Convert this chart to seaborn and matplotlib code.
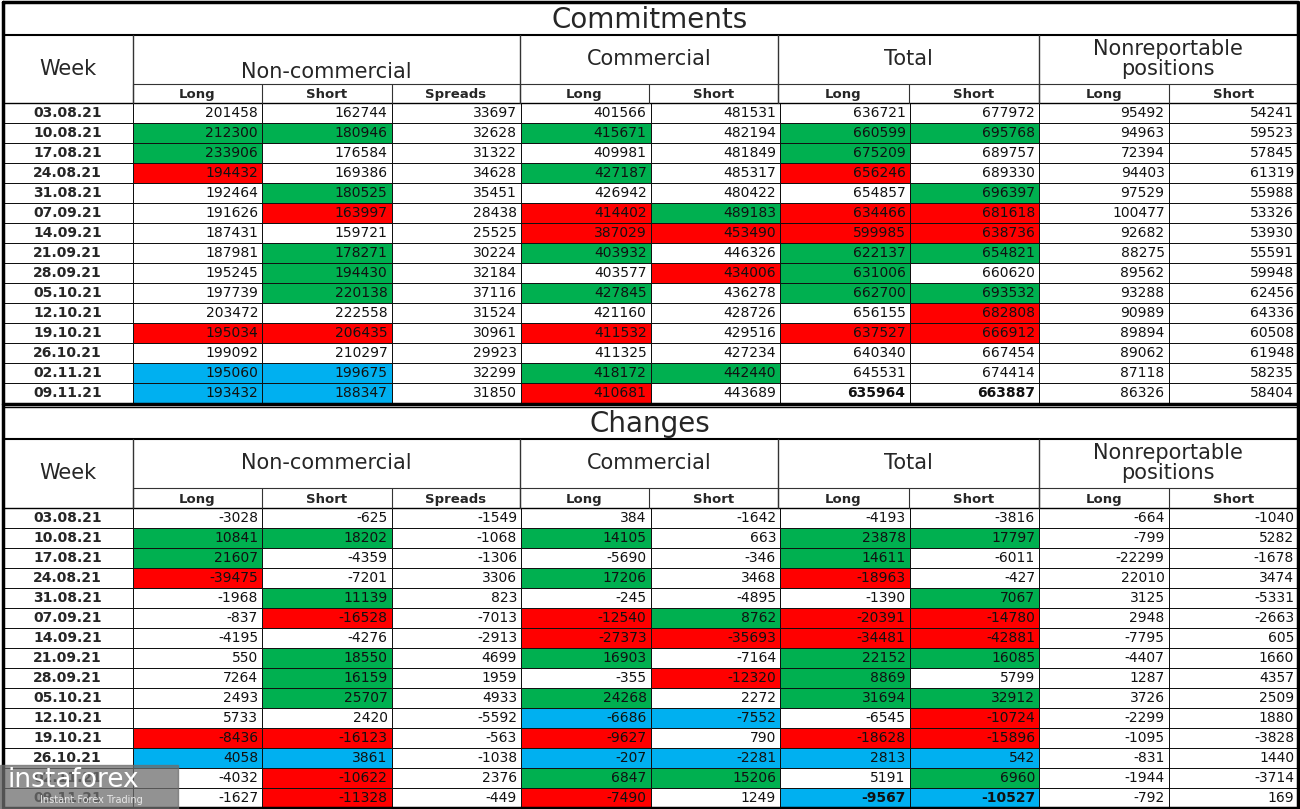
import numpy as np
import pandas as pd
import matplotlib
matplotlib.use('Agg')
import matplotlib.pyplot as plt
from matplotlib.colors import ListedColormap
import seaborn as sns

sns.set_theme(style='white')
plt.rcParams['font.family'] = ['DejaVu Sans']

#%% Dati

weeks = ['03.08.21', '10.08.21', '17.08.21', '24.08.21', '31.08.21', '07.09.21', '14.09.21',
         '21.09.21', '28.09.21', '05.10.21', '12.10.21', '19.10.21', '26.10.21', '02.11.21', '09.11.21']

groups = ['Non-commercial', 'Commercial', 'Total', 'Nonreportable\npositions']
sub_cols = ['Long', 'Short', 'Spreads', 'Long', 'Short', 'Long', 'Short', 'Long', 'Short']

# Commitments
nc_long = [201458, 212300, 233906, 194432, 192464, 191626, 187431, 187981, 195245, 197739, 203472, 195034, 199092, 195060, 193432]
nc_short = [162744, 180946, 176584, 169386, 180525, 163997, 159721, 178271, 194430, 220138, 222558, 206435, 210297, 199675, 188347]
spreads = [33697, 32628, 31322, 34628, 35451, 28438, 25525, 30224, 32184, 37116, 31524, 30961, 29923, 32299, 31850]
c_long = [401566, 415671, 409981, 427187, 426942, 414402, 387029, 403932, 403577, 427845, 421160, 411532, 411325, 418172, 410681]
c_short = [481531, 482194, 481849, 485317, 480422, 489183, 453490, 446326, 434006, 436278, 428726, 429516, 427234, 442440, 443689]
t_long = [636721, 660599, 675209, 656246, 654857, 634466, 599985, 622137, 631006, 662700, 656155, 637527, 640340, 645531, 635964]
t_short = [677972, 695768, 689757, 689330, 696397, 681618, 638736, 654821, 660620, 693532, 682808, 666912, 667454, 674414, 663887]
nr_long = [95492, 94963, 72394, 94403, 97529, 100477, 92682, 88275, 89562, 93288, 90989, 89894, 89062, 87118, 86326]
nr_short = [54241, 59523, 57845, 61319, 55988, 53326, 53930, 55591, 59948, 62456, 64336, 60508, 61948, 58235, 58404]

# Changes
d_nc_long = [-3028, 10841, 21607, -39475, -1968, -837, -4195, 550, 7264, 2493, 5733, -8436, 4058, -4032, -1627]
d_nc_short = [-625, 18202, -4359, -7201, 11139, -16528, -4276, 18550, 16159, 25707, 2420, -16123, 3861, -10622, -11328]
d_spreads = [-1549, -1068, -1306, 3306, 823, -7013, -2913, 4699, 1959, 4933, -5592, -563, -1038, 2376, -449]
d_c_long = [384, 14105, -5690, 17206, -245, -12540, -27373, 16903, -355, 24268, -6686, -9627, -207, 6847, -7490]
d_c_short = [-1642, 663, -346, 3468, -4895, 8762, -35693, -7164, -12320, 2272, -7552, 790, -2281, 15206, 1249]
d_t_long = [-4193, 23878, 14611, -18963, -1390, -20391, -34481, 22152, 8869, 31694, -6545, -18628, 2813, 5191, -9567]
d_t_short = [-3816, 17797, -6011, -427, 7067, -14780, -42881, 16085, 5799, 32912, -10724, -15896, 542, 6960, -10527]
d_nr_long = [-664, -799, -22299, 22010, 3125, 2948, -7795, -4407, 1287, 3726, -2299, -1095, -831, -1944, -792]
d_nr_short = [-1040, 5282, -1678, 3474, -5331, -2663, 605, 1660, 4357, 2509, 1880, -3828, 1440, -3714, 169]

# colori celle: . bianco, g verde, r rosso, b azzurro
top_colors = ['.........', 'gg.g.gg..', 'g....g...', 'r..g.r...', '.g....g..',
              '.r.rgrr..', '...rrrr..', '.g.g.gg..', '.g..rg...', '.g.g.gg..',
              '......r..', 'rr.r.rr..', '.........', 'bb.gg....', 'bb.r.....']
bot_colors = ['.........', 'gg.g.gg..', 'g....g...', 'r..g.r...', '.g....g..',
              '.r.rgrr..', '...rrrr..', '.g.g.gg..', '.g..rg...', '.g.g.gg..',
              '...bb.r..', 'rr.r.rr..', 'bb.bbbb..', '.r.gg.g..', '.r.r.bb..']

# celle in grassetto (riga, colonna dati)
top_bold = [(14, 5), (14, 6)]
bot_bold = [(14, 5), (14, 6)]

top_vals = [nc_long, nc_short, spreads, c_long, c_short, t_long, t_short, nr_long, nr_short]
bot_vals = [d_nc_long, d_nc_short, d_spreads, d_c_long, d_c_short, d_t_long, d_t_short, d_nr_long, d_nr_short]

code = {'.': 0, 'g': 1, 'r': 2, 'b': 3}
cmap = ListedColormap(['#FFFFFF', '#00B050', '#FF0000', '#00B0F0'])

W, H = 1300, 809
fig = plt.figure(figsize=(W / 100, H / 100), dpi=100)
fig.patch.set_facecolor('white')


def px_rect(x0, y0, x1, y1):
    return [x0 / W, 1 - y1 / H, (x1 - x0) / W, (y1 - y0) / H]


def draw_table(y0, y1, vals, colors, bold):
    ax = fig.add_axes(px_rect(3, y0, 1298, y1))
    mat = pd.DataFrame([[0] + [code[c] for c in row] for row in colors],
                       index=weeks, columns=['Week'] + sub_cols)
    sns.heatmap(mat, cmap=cmap, vmin=-0.5, vmax=3.5, cbar=False,
                linewidths=0.7, linecolor='#111111', ax=ax)
    ax.set_xticks([])
    ax.set_yticks([])
    ax.set_xlabel('')
    ax.set_ylabel('')
    for i, w in enumerate(weeks):
        ax.text(0.5, i + 0.52, w, ha='center', va='center', fontsize=10, fontweight='bold')
        for j, col in enumerate(vals):
            fw = 'bold' if (i, j) in bold else 'normal'
            ax.text(j + 2 - 0.03, i + 0.52, str(col[i]), ha='right', va='center',
                    fontsize=10, fontweight=fw, color='#111111')
    return ax


ax_top = draw_table(103, 403, top_vals, top_colors, top_bold)
ax_bot = draw_table(508, 808, bot_vals, bot_colors, bot_bold)

#%% Intestazioni

ov = fig.add_axes([0, 0, 1, 1], facecolor='none')
ov.set_xlim(0, W)
ov.set_ylim(H, 0)
ov.axis('off')

edges = [3, 133, 262, 392, 520, 649, 778, 909, 1039, 1169, 1298]
group_edges = [3, 133, 520, 778, 1039, 1298]


def draw_header(title, title_y, hdr_top, sub_top, data_top, text_y):
    ov.text(650, title_y, title, ha='center', va='center', fontsize=20)
    ov.plot([3, 1298], [hdr_top, hdr_top], color='black', lw=1.5)
    ov.plot([133, 1298], [sub_top, sub_top], color='#333333', lw=0.8)
    ov.plot([3, 1298], [data_top, data_top], color='black', lw=1)
    for x in group_edges:
        ov.plot([x, x], [hdr_top, data_top], color='#333333', lw=1)
    for x in edges:
        ov.plot([x, x], [sub_top, data_top], color='#333333', lw=0.8)
    ov.text(68, text_y['week'], 'Week', ha='center', va='center', fontsize=15)
    ov.text(326, text_y['nc'], groups[0], ha='center', va='center', fontsize=15)
    ov.text(649, text_y['c'], groups[1], ha='center', va='center', fontsize=15)
    ov.text(908, text_y['t'], groups[2], ha='center', va='center', fontsize=15)
    ov.text(1168, text_y['nr'], groups[3], ha='center', va='center', fontsize=15,
            linespacing=0.95)
    for j, s in enumerate(sub_cols):
        xc = (edges[j + 1] + edges[j + 2]) / 2
        ov.text(xc, (sub_top + data_top) / 2 + 1, s, ha='center', va='center',
                fontsize=9.5, fontweight='bold')


draw_header('Commitments', 20, 35, 84, 103,
            {'week': 69, 'nc': 72, 'c': 59, 't': 59, 'nr': 59})
draw_header('Changes', 424, 439, 488, 508,
            {'week': 473, 'nc': 463, 'c': 463, 't': 463, 'nr': 463})

# bordi esterni
ov.plot([3, 1298, 1298, 3, 3], [2, 2, 808, 808, 2], color='black', lw=2.5)
ov.plot([3, 1298], [404, 404], color='black', lw=2.5)
ov.plot([3, 1298], [407, 407], color='black', lw=1)

# watermark
ov.add_patch(plt.Rectangle((0, 765), 178, 44, color='#6E6E6E', alpha=0.75, zorder=5))
ov.text(8, 780, 'instaforex', ha='left', va='center', fontsize=19, color='white', zorder=6)
ov.text(40, 800, 'Instant Forex Trading', ha='left', va='center', fontsize=7,
        color='#E8E8E8', zorder=6)

fig.savefig('out.png', dpi=100)
